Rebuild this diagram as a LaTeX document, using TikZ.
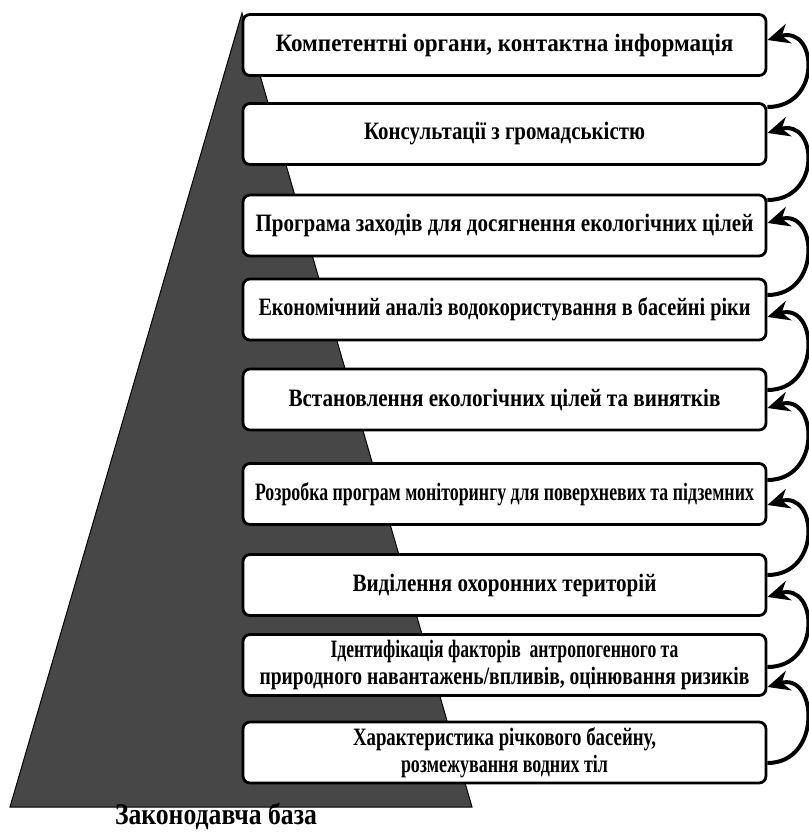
\documentclass[tikz,border=0pt]{standalone}
\usepackage{fontspec}
\setmainfont{Liberation Serif}
\usepackage{graphicx}
\usetikzlibrary{arrows.meta}
\newsavebox\fwbox
\newdimen\fwdim
\newcommand\fitw[2]{\sbox\fwbox{#2}\fwdim=\wd\fwbox\pgfmathsetmacro\fwratio{#1/\fwdim}\scalebox{\fwratio}[1]{\usebox\fwbox}}
\begin{document}
\begin{tikzpicture}[x=1pt,y=-1pt,
  box/.style={draw=black, line width=2.8pt, rounded corners=7pt, fill=white,
    minimum width=523pt, minimum height=61pt, align=center, inner sep=0pt,
    font=\bfseries\fontsize{25}{27}\selectfont},
  arr/.style={line width=4pt, -{Stealth[length=22pt,width=20pt,inset=7pt]}},
  base/.style={fill=black!72, draw=black, line width=1pt},
  lab/.style={font=\bfseries\fontsize{30}{34}\selectfont, inner sep=0pt}]
\useasboundingbox (0,0) rectangle (809,836);
\path[base] (242,13) -- (472,807) -- (10,807) -- cycle;
\node[box] (b1) at (504.5,45)    {\fitw{458}{Компетентні органи, контактна інформація}};
\node[box] (b2) at (504.5,134)   {\fitw{281}{Консультації з громадськістю}};
\node[box] (b3) at (504.5,225.5) {\fitw{498}{Програма заходів для досягнення екологічних цілей}};
\node[box] (b4) at (504.5,309.5) {\fitw{492}{Економічний аналіз водокористування в басейні ріки}};
\node[box] (b5) at (504.5,399.5) {\fitw{432}{Встановлення екологічних цілей та винятків}};
\node[box] (b6) at (504.5,494)   {\fitw{499}{Розробка програм моніторингу для поверхневих та підземних}};
\node[box] (b7) at (504.5,585)   {\fitw{304}{Виділення охоронних територій}};
\node[box] (b8) at (504.5,665)   {\fitw{348}{Ідентифікація факторів\ \ антропогенного та}\\
  \fitw{490}{природного навантажень/впливів, оцінювання ризиків}};
\node[box] (b9) at (504.5,752.5) {\raisebox{-5pt}{\fitw{303}{Характеристика річкового басейну,}}\\
  \raisebox{-5pt}{\fitw{207}{розмежування водних тіл}}};
\node[lab] (zb) at (216,816) {\fitw{202}{Законодавча база}};
\draw[arr] ([yshift=27pt]b2.east)    .. controls +(55,0) and +(50,-15) .. ([yshift=5pt]b1.east);
\draw[arr] ([yshift=25.5pt]b3.east)  .. controls +(55,0) and +(50,-15) .. ([yshift=1pt]b2.east);
\draw[arr] ([yshift=14.5pt]b4.east)  .. controls +(55,0) and +(50,-15) .. ([yshift=2.5pt]b3.east);
\draw[arr] ([yshift=9.5pt]b5.east)   .. controls +(55,0) and +(50,-15) .. ([yshift=-7.5pt]b4.east);
\draw[arr] ([yshift=14pt]b6.east)    .. controls +(55,0) and +(50,-15) .. ([yshift=-8.5pt]b5.east);
\draw[arr] ([yshift=10pt]b7.east)    .. controls +(55,0) and +(50,-15) .. ([yshift=-11pt]b6.east);
\draw[arr] ([yshift=-2pt]b8.east)    .. controls +(55,0) and +(50,-15) .. ([yshift=-12pt]b7.east);
\draw[arr] ([yshift=-10.5pt]b9.east) .. controls +(55,0) and +(50,-15) .. ([yshift=-22pt]b8.east);
\end{tikzpicture}
\end{document}
